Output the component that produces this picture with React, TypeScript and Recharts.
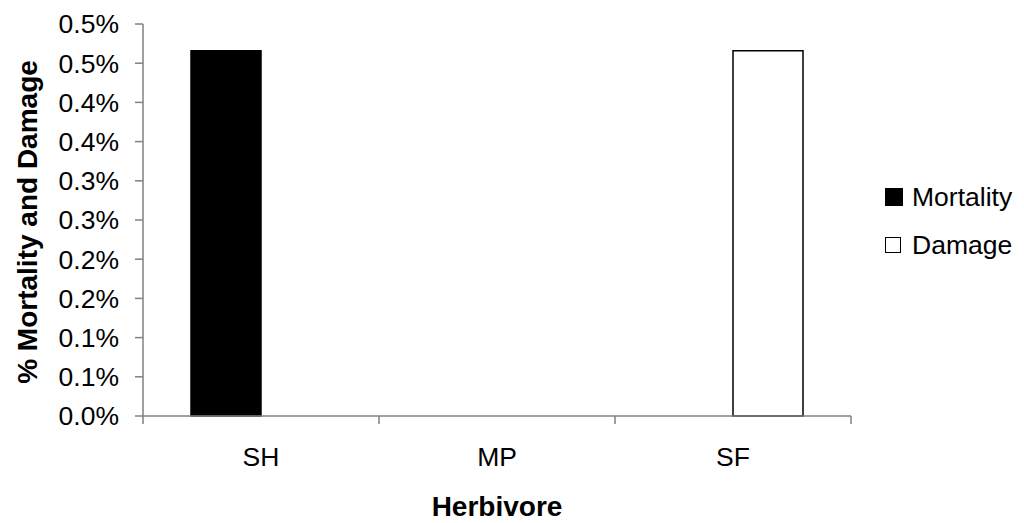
import React from 'react';
import { BarChart, Bar, XAxis, YAxis, Label } from 'recharts';

const herbivores = ['SH', 'MP', 'SF'];
const mortality = [0.00466, 0, 0];
const damage = [0, 0, 0.00466];

const yTicks = [0, 0.0005, 0.001, 0.0015, 0.002, 0.0025, 0.003, 0.0035, 0.004, 0.0045, 0.005];
const yTickLabels = ['0.0%', '0.1%', '0.1%', '0.2%', '0.2%', '0.3%', '0.3%', '0.4%', '0.4%', '0.5%', '0.5%'];

const seriesNames = ['Mortality', 'Damage'];
const seriesFills = ['#000', '#fff'];

const data = herbivores.map((h, i) => ({ herbivore: h, mortality: mortality[i], damage: damage[i] }));

const FONT = '"Liberation Sans", Arial, sans-serif';
const AXIS_GREY = '#808080';

const W = 1024;
const H = 523;
const PLOT_LEFT = 143;
const PLOT_RIGHT = 851;
const PLOT_TOP = 24;
const PLOT_BOTTOM = 416;
const BAND = (PLOT_RIGHT - PLOT_LEFT) / herbivores.length;

// category label plus Excel-style tick marks sitting between the categories
const HerbTick = (props: any) => {
  const { x, y, payload, index } = props;
  const left = x - BAND / 2;
  const right = x + BAND / 2;
  return (
    <g>
      <line x1={left} y1={y} x2={left} y2={y + 8} stroke={AXIS_GREY} strokeWidth={1.5} />
      {index === herbivores.length - 1 && (
        <line x1={right} y1={y} x2={right} y2={y + 8} stroke={AXIS_GREY} strokeWidth={1.5} />
      )}
      <text x={x} y={y + 50} textAnchor="middle" fontFamily={FONT} fontSize={26.5} fill="#000">
        {payload.value}
      </text>
    </g>
  );
};

// legend lives outside the svg so it doesn't eat into the plot area
const LegendBox = () => (
  <div style={{ position: 'absolute', left: 885, top: 173, fontFamily: FONT, fontSize: 26.5, color: '#000' }}>
    {seriesNames.map((name, i) => (
      <div key={name} style={{ display: 'flex', alignItems: 'center', height: 48 }}>
        <span
          style={{
            display: 'inline-block',
            width: i === 0 ? 16 : 14,
            height: i === 0 ? 16 : 14,
            background: seriesFills[i],
            border: '1px solid #000',
            marginRight: i === 0 ? 9 : 11,
          }}
        />
        <span>{name}</span>
      </div>
    ))}
  </div>
);

export default function App() {
  return (
    <div style={{ position: 'absolute', left: 0, top: 0, width: W, height: H, background: '#fff' }}>
      <BarChart
        width={W}
        height={H}
        data={data}
        margin={{ top: PLOT_TOP, right: W - PLOT_RIGHT, bottom: 0, left: 0 }}
        barSize={70}
        barGap={0}
      >
        <XAxis
          dataKey="herbivore"
          height={H - PLOT_BOTTOM}
          axisLine={{ stroke: AXIS_GREY, strokeWidth: 1.5 }}
          tickLine={false}
          tickSize={0}
          tickMargin={0}
          tick={<HerbTick />}
          interval={0}
        >
          <Label
            content={() => (
              <text x={497} y={516} textAnchor="middle" fontFamily={FONT} fontWeight="bold" fontSize={28} fill="#000">
                Herbivore
              </text>
            )}
          />
        </XAxis>
        <YAxis
          width={PLOT_LEFT}
          domain={[0, 0.005]}
          ticks={yTicks}
          interval={0}
          tickFormatter={(_v: number, i: number) => yTickLabels[i]}
          axisLine={{ stroke: AXIS_GREY, strokeWidth: 1.5 }}
          tickLine={{ stroke: AXIS_GREY, strokeWidth: 1.5 }}
          tickSize={8}
          tickMargin={16}
          tick={{ fill: '#000', fontSize: 26.5, fontFamily: FONT }}
        >
          <Label
            content={() => (
              <text
                x={37}
                y={222}
                transform="rotate(-90 37 222)"
                textAnchor="middle"
                fontFamily={FONT}
                fontWeight="bold"
                fontSize={28}
                fill="#000"
              >
                % Mortality and Damage
              </text>
            )}
          />
        </YAxis>
        <Bar dataKey="mortality" name={seriesNames[0]} fill={seriesFills[0]} stroke="#000" strokeWidth={1.5} isAnimationActive={false} />
        <Bar dataKey="damage" name={seriesNames[1]} fill={seriesFills[1]} stroke="#000" strokeWidth={1.5} isAnimationActive={false} />
      </BarChart>
      <LegendBox />
    </div>
  );
}
